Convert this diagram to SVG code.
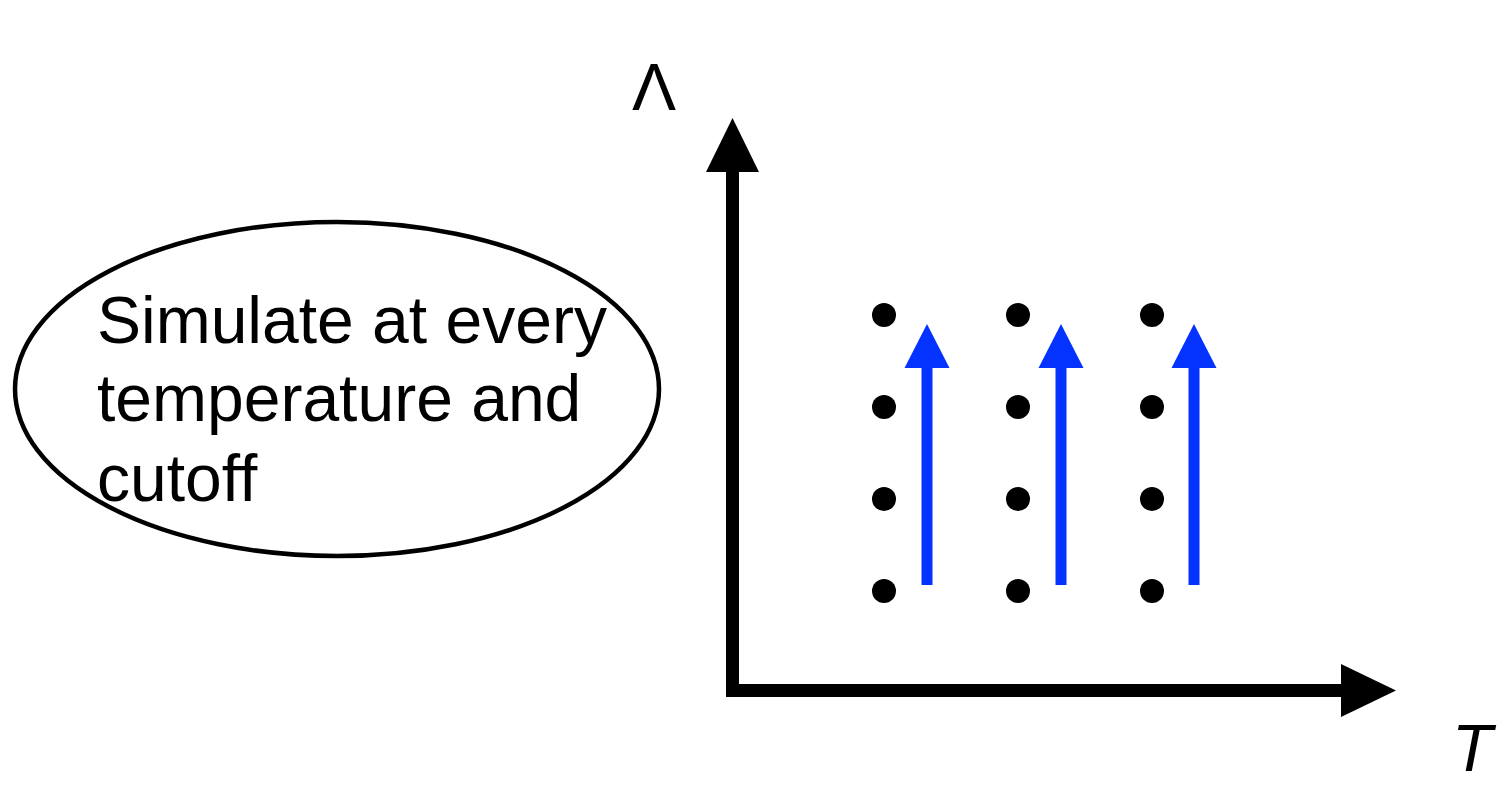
<svg xmlns="http://www.w3.org/2000/svg" width="1499" height="787" viewBox="0 0 1499 787">
<style>
.lbl{font-family:"Liberation Sans",Arial,sans-serif;font-size:66px;fill:#000}
.ax{stroke:#000;stroke-width:13;fill:none}
.axh{fill:#000}
.dot{fill:#000}
.bl{stroke:#0433FF;stroke-width:11;fill:none}
.blh{fill:#0433FF}
</style>
<rect width="1499" height="787" fill="#fff"/>
<g id="note">
<ellipse cx="337" cy="389" rx="322" ry="167" fill="none" stroke="#000" stroke-width="4.5"/>
<text class="lbl" x="97" y="343">Simulate at every</text>
<text class="lbl" x="97" y="421">temperature and</text>
<text class="lbl" x="97" y="501">cutoff</text>
</g>
<g id="axes">
<path class="ax" d="M732.5,172 V690.5 H1342"/>
<polygon class="axh" points="732.5,118 759,172 706,172"/>
<polygon class="axh" points="1396,690.5 1341,664 1341,717"/>
<text id="lambda" class="lbl" x="632" y="110" font-size="70">Λ</text>
<text id="tlabel" class="lbl" x="1452" y="771" font-style="italic" font-size="68">T</text>
</g>
<g id="dots">
<circle class="dot" cx="884" cy="315" r="12"/><circle class="dot" cx="884" cy="407" r="12"/><circle class="dot" cx="884" cy="499" r="12"/><circle class="dot" cx="884" cy="591" r="12"/>
<circle class="dot" cx="1018" cy="315" r="12"/><circle class="dot" cx="1018" cy="407" r="12"/><circle class="dot" cx="1018" cy="499" r="12"/><circle class="dot" cx="1018" cy="591" r="12"/>
<circle class="dot" cx="1152" cy="315" r="12"/><circle class="dot" cx="1152" cy="407" r="12"/><circle class="dot" cx="1152" cy="499" r="12"/><circle class="dot" cx="1152" cy="591" r="12"/>
</g>
<g id="connectors">
<line class="bl" x1="927" y1="585" x2="927" y2="366"/><polygon class="blh" points="927,324 949.5,368 904.5,368"/>
<line class="bl" x1="1061" y1="585" x2="1061" y2="366"/><polygon class="blh" points="1061,324 1083.5,368 1038.5,368"/>
<line class="bl" x1="1194" y1="585" x2="1194" y2="366"/><polygon class="blh" points="1194,324 1216.5,368 1171.5,368"/>
</g>
</svg>
